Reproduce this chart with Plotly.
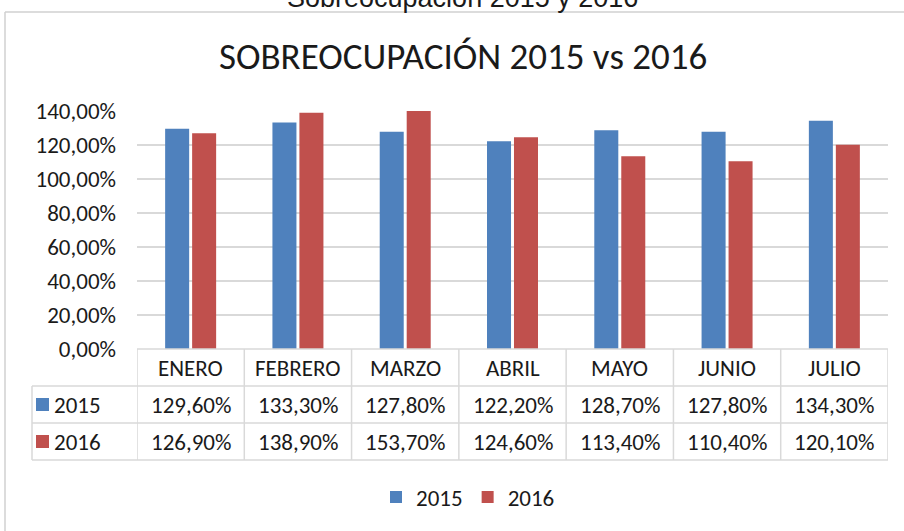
import plotly.graph_objects as go

months = ["ENERO", "FEBRERO", "MARZO", "ABRIL", "MAYO", "JUNIO", "JULIO"]
series_names = ["2015", "2016"]
values_2015 = [1.296, 1.333, 1.278, 1.222, 1.287, 1.278, 1.343]
values_2016 = [1.269, 1.389, 1.537, 1.246, 1.134, 1.104, 1.201]
colors = ["#4F81BD", "#C0504D"]

FONT = "Carlito, Calibri, Lato, sans-serif"
GRID = "#D9D9D9"
TXT = "#1a1a1a"
FS = 23

W, H = 904, 531
# plot area in page pixels: x 137..888, y 111..349
L, R, T, B = 137, 888, 111, 349
def px_x(px):
    return (px - L) / (R - L)
def px_y(py):
    return (B - py) / (B - T)

def fmt(v):
    return f"{v*100:.2f}".replace(".", ",") + "%"

fig = go.Figure()
for name, vals, col in zip(series_names, [values_2015, values_2016], colors):
    fig.add_trace(go.Bar(x=list(range(len(months))), y=vals, name=name,
                         marker=dict(color=col, line=dict(width=0))))

shapes = []
annotations = []

# outer chart border (top and left)
shapes.append(dict(type="line", xref="paper", yref="paper", x0=px_x(5), x1=px_x(904),
                   y0=px_y(12), y1=px_y(12), line=dict(color="#D0D0D0", width=1.5)))
shapes.append(dict(type="line", xref="paper", yref="paper", x0=px_x(5), x1=px_x(5),
                   y0=px_y(12), y1=px_y(531), line=dict(color="#D0D0D0", width=1.5)))

# data table lines
row_tops = [349, 386, 423, 460]
shapes.append(dict(type="line", xref="paper", yref="paper", x0=0, x1=1,
                   y0=px_y(row_tops[0]), y1=px_y(row_tops[0]), line=dict(color=GRID, width=1.5)))
for py in row_tops[1:]:
    shapes.append(dict(type="line", xref="paper", yref="paper", x0=px_x(32), x1=1,
                       y0=px_y(py), y1=px_y(py), line=dict(color=GRID, width=1.5)))
for k in range(len(months) + 1):
    shapes.append(dict(type="line", xref="x", yref="paper", x0=k - 0.5, x1=k - 0.5,
                       y0=px_y(349), y1=px_y(460), line=dict(color=GRID, width=1.5)))
shapes.append(dict(type="line", xref="paper", yref="paper", x0=px_x(32), x1=px_x(32),
                   y0=px_y(386), y1=px_y(460), line=dict(color=GRID, width=1.5)))

# table text
row_centers = [368, 404.5, 441.5]
for i, m in enumerate(months):
    annotations.append(dict(x=i, y=px_y(row_centers[0]), xref="x", yref="paper", text=m,
                            xanchor="center", yanchor="middle",
                            showarrow=False, font=dict(family=FONT, size=FS, color=TXT)))
    for r, vals in enumerate([values_2015, values_2016]):
        annotations.append(dict(x=i, y=px_y(row_centers[r + 1]), xref="x", yref="paper",
                                text=fmt(vals[i]), showarrow=False,
                                xanchor="center", yanchor="middle",
                                font=dict(family=FONT, size=FS, color=TXT)))
for r, (name, col) in enumerate(zip(series_names, colors)):
    yc = row_centers[r + 1]
    shapes.append(dict(type="rect", xref="paper", yref="paper", x0=px_x(36), x1=px_x(49),
                       y0=px_y(yc - 6.5), y1=px_y(yc + 6.5), fillcolor=col, line=dict(width=0)))
    annotations.append(dict(x=px_x(52), y=px_y(yc), xref="paper", yref="paper", text=name,
                            xanchor="left", yanchor="middle", showarrow=False,
                            font=dict(family=FONT, size=FS, color=TXT)))

# titles
annotations.append(dict(x=px_x(463), y=px_y(57), xref="paper", yref="paper",
                        text="SOBREOCUPACIÓN 2015 vs 2016", showarrow=False,
                        xanchor="center", yanchor="middle",
                        font=dict(family=FONT, size=37, color=TXT)))
annotations.append(dict(x=px_x(462), y=px_y(15), xref="paper", yref="paper",
                        text="Sobreocupación 2015 y 2016", showarrow=False,
                        xanchor="center", yanchor="bottom",
                        font=dict(family="Liberation Sans, Arial", size=27, color=TXT)))

fig.update_layout(
    width=W, height=H,
    margin=dict(l=L, r=W - R, t=T, b=H - B, pad=0, autoexpand=False),
    paper_bgcolor="white", plot_bgcolor="white",
    separators=",.",
    barmode="group", bargap=0.497, bargroupgap=0.11,
    showlegend=True,
    legend=dict(orientation="h", x=px_x(376), y=px_y(497), xanchor="left", yanchor="middle",
                font=dict(family=FONT, size=FS, color=TXT), itemwidth=30,
                bgcolor="rgba(0,0,0,0)", traceorder="normal"),
    shapes=shapes,
    annotations=annotations,
    xaxis=dict(range=[-0.5, len(months) - 0.5], showticklabels=False, showgrid=False,
               zeroline=False, showline=False, fixedrange=True),
    yaxis=dict(range=[0, 1.4], dtick=0.2, tickformat=".2%", showgrid=True, gridcolor=GRID,
               gridwidth=1.5, zeroline=False, showline=False, ticks="", ticklabelstandoff=20,
               tickfont=dict(family=FONT, size=FS, color=TXT), fixedrange=True),
)

fig.write_html("out.html", config={"displayModeBar": False},
               post_script="document.body.style.margin='0';document.body.style.overflow='hidden';")
